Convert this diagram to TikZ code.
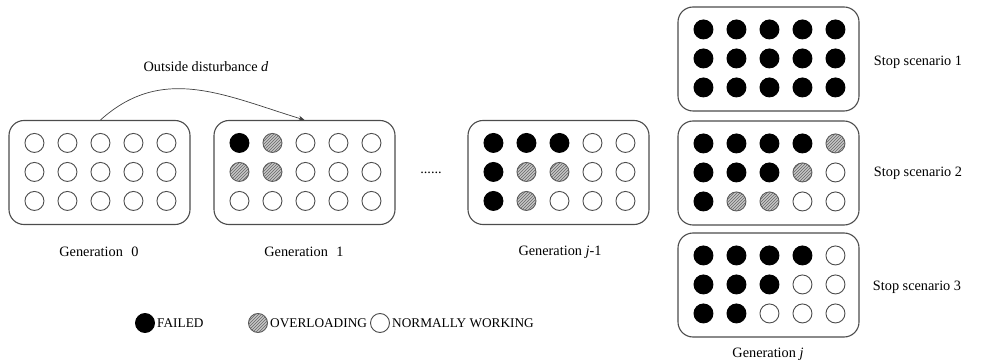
\documentclass[tikz,border=0pt]{standalone}
\usepackage{fontspec}
\setmainfont{Liberation Serif}
\usetikzlibrary{calc,patterns,arrows.meta}

\tikzset{
  genbox/.style={draw=black!70, line width=1.1pt, rounded corners=15pt,
    minimum width=181pt, minimum height=104pt, inner sep=0pt},
  cellbase/.style={circle, minimum size=19pt, inner sep=0pt, line width=0.9pt},
  cellF/.style={cellbase, draw=black, fill=black},
  cellO/.style={cellbase, draw=black!65, fill=gray!45,
    postaction={pattern=north east lines, pattern color=black!60}},
  cellW/.style={cellbase, draw=black!70, fill=white},
  lbl/.style={inner sep=0pt, font=\fontsize{14.3}{16}\selectfont},
  keylbl/.style={inner sep=0pt, anchor=west, font=\fontsize{13.3}{15}\selectfont},
  flow/.style={draw=black!75, line width=0.7pt, -{Stealth[length=6pt,width=5pt]}}
}

% one row of five units inside a generation box
\newcommand\unitrow[3]{%
  \foreach \s [count=\c] in {#3} {
    \node[cell\s] (#1-#2-\c) at ($(#1.north west)+({26+33*(\c-1)},{23+29*(#2-1)})$) {};
  }%
}

\begin{document}
\begin{tikzpicture}[x=1pt,y=-1pt]
\useasboundingbox (0,0) rectangle (992,363);

% generation boxes
\node[genbox] (g0)  at (99.5,172.5)  {};
\node[genbox] (g1)  at (304.5,172.5) {};
\node[genbox] (gj1) at (558.5,172.5) {};
\node[genbox] (s1)  at (768.5,59)    {};
\node[genbox] (s2)  at (768.5,173)   {};
\node[genbox] (s3)  at (768.5,285)   {};

% unit states: F failed, O overloading, W normally working
\unitrow{g0}{1}{W,W,W,W,W}
\unitrow{g0}{2}{W,W,W,W,W}
\unitrow{g0}{3}{W,W,W,W,W}

\unitrow{g1}{1}{F,O,W,W,W}
\unitrow{g1}{2}{O,O,W,W,W}
\unitrow{g1}{3}{W,W,W,W,W}

\unitrow{gj1}{1}{F,F,F,W,W}
\unitrow{gj1}{2}{F,O,O,W,W}
\unitrow{gj1}{3}{F,O,W,W,W}

\unitrow{s1}{1}{F,F,F,F,F}
\unitrow{s1}{2}{F,F,F,F,F}
\unitrow{s1}{3}{F,F,F,F,F}

\unitrow{s2}{1}{F,F,F,F,O}
\unitrow{s2}{2}{F,F,F,O,W}
\unitrow{s2}{3}{F,O,O,W,W}

\unitrow{s3}{1}{F,F,F,F,W}
\unitrow{s3}{2}{F,F,F,W,W}
\unitrow{s3}{3}{F,F,W,W,W}

% captions
\node[lbl] (c0)  at (99,252)  {Generation\hspace{0.6em}0};
\node[lbl] (c1)  at (304,252) {Generation\hspace{0.6em}1};
\node[lbl] (cj1) at (560,252) {Generation \textit{j}-1};
\node[lbl] (cj)  at (768,354) {Generation \textit{j}};
\node[lbl] (t1)  at (918,62)  {Stop scenario 1};
\node[lbl] (t2)  at (918,173) {Stop scenario 2};
\node[lbl] (t3)  at (917,287) {Stop scenario 3};
\node[lbl] (dots) at (431,173) {......};

% disturbance arrow
\node[lbl] (dist) at (206,67) {Outside disturbance \textit{d}};
\draw[flow] ($(g0.north)+(1,0)$) to[out=42,in=163,looseness=1.05] (g1.north);

% legend
\node[cellF] (kF) at (145,323) {};
\node[keylbl] (kFt) at (157,323) {FAILED};
\node[cellO] (kO) at (258,323) {};
\node[keylbl] (kOt) at (270,323) {OVERLOADING};
\node[cellW] (kW) at (380,323) {};
\node[keylbl] (kWt) at (392,323) {NORMALLY WORKING};
\end{tikzpicture}
\end{document}
